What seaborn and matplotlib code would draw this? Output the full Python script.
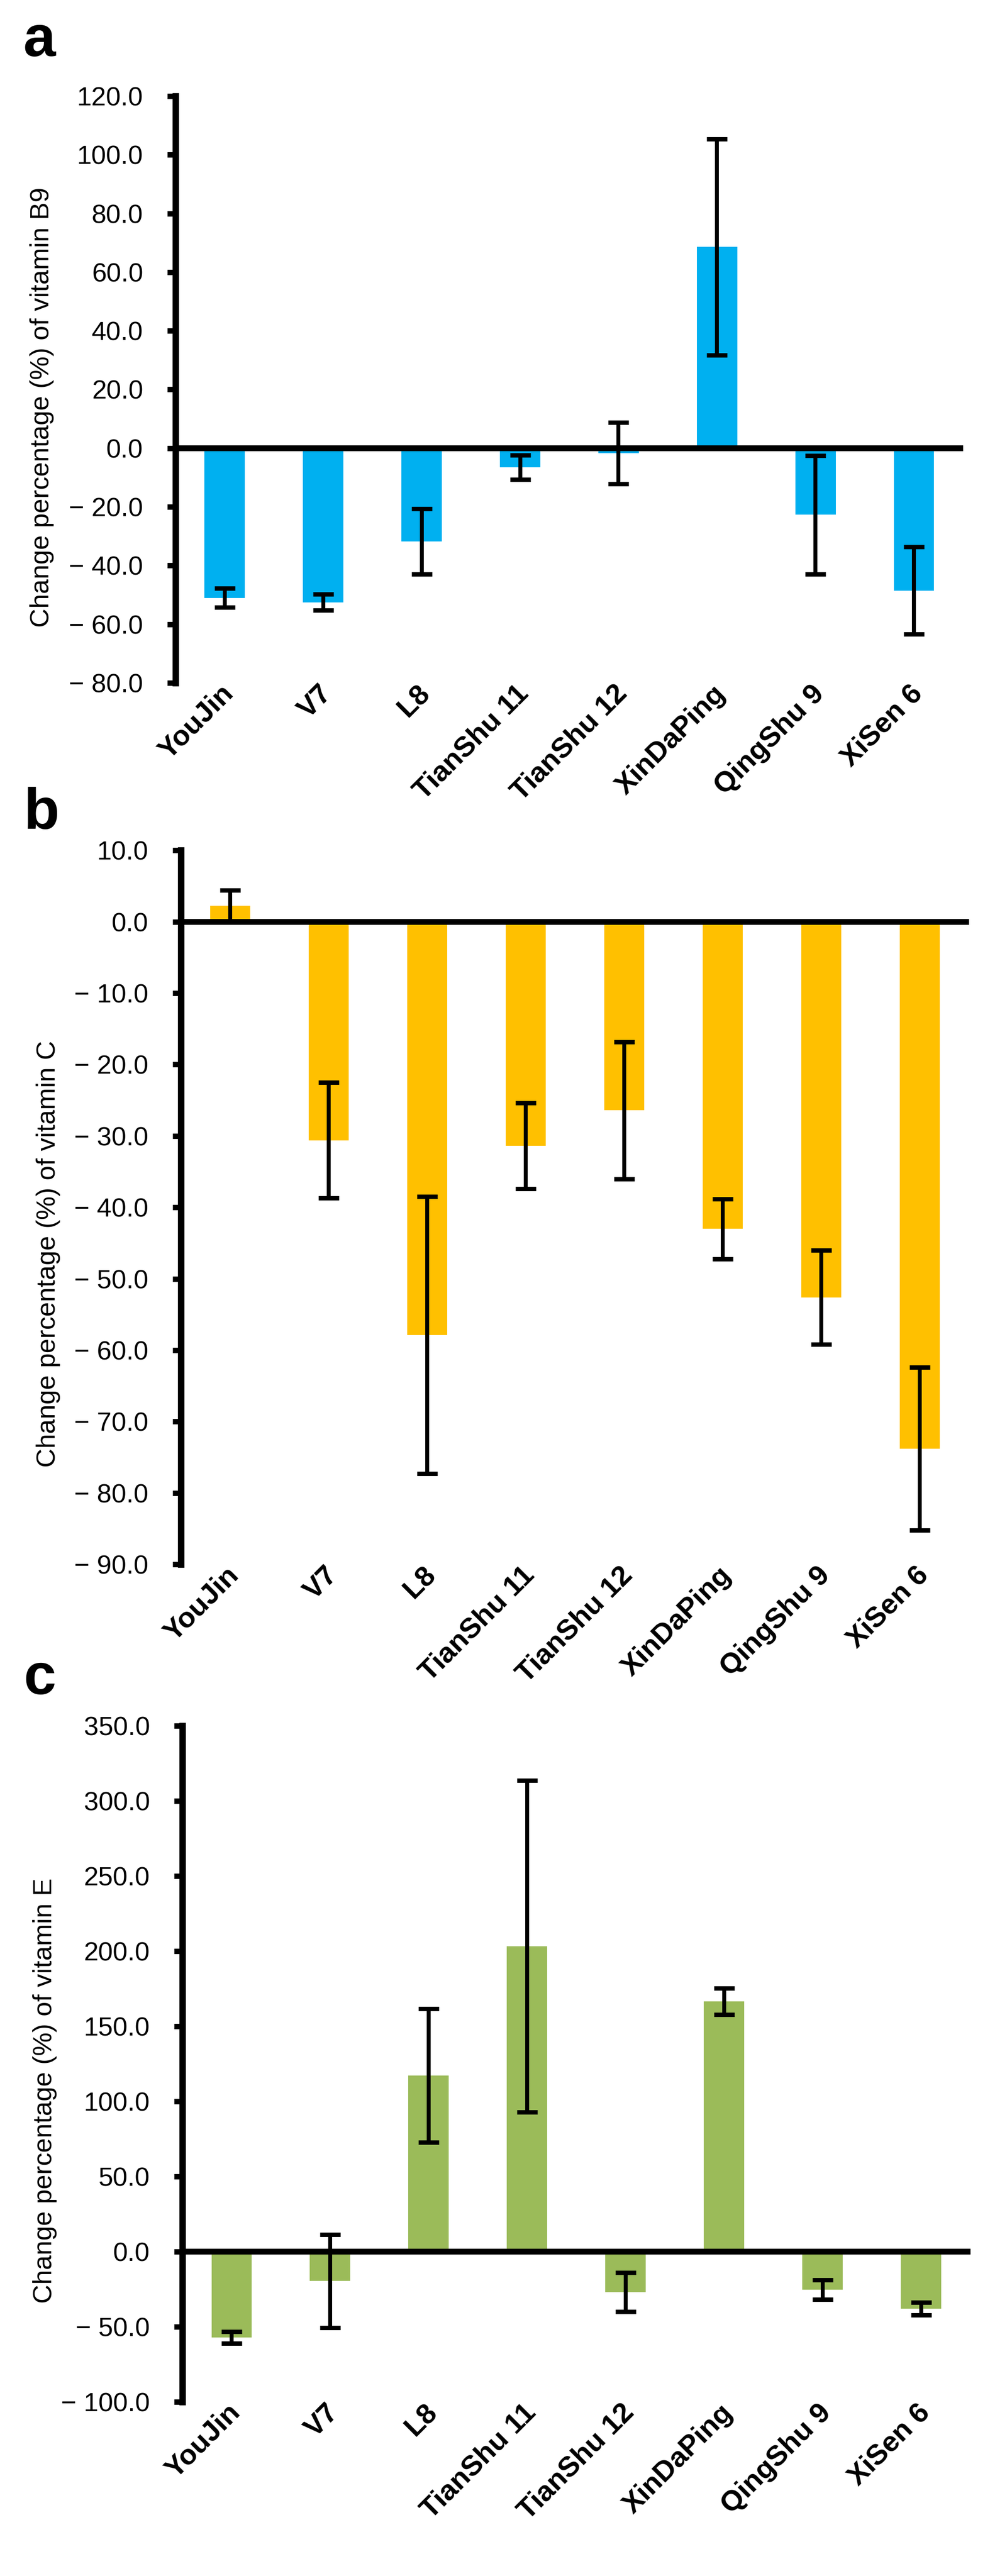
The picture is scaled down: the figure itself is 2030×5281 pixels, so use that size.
import numpy as np
import pandas as pd
import matplotlib
matplotlib.use("Agg")
import matplotlib.pyplot as plt
from matplotlib.ticker import FuncFormatter
from matplotlib.transforms import ScaledTranslation
import seaborn as sns

plt.rcParams['font.family'] = ['Liberation Sans', 'DejaVu Sans']

categories = ["YouJin", "V7", "L8", "TianShu 11", "TianShu 12", "XinDaPing", "QingShu 9", "XiSen 6"]

b9_mean = [-51.0, -52.5, -31.8, -6.5, -1.7, 68.6, -22.7, -48.5]
b9_err = [3.3, 2.7, 11.1, 4.1, 10.5, 36.8, 20.2, 14.8]

c_mean = [2.2, -30.6, -57.9, -31.4, -26.4, -43.0, -52.6, -73.8]
c_err = [2.2, 8.1, 19.4, 6.0, 9.6, 4.2, 6.6, 11.4]

e_mean = [-57.1, -19.5, 117.2, 203.1, -26.9, 166.6, -25.4, -38.0]
e_err = [4.0, 31.0, 44.6, 110.4, 12.9, 8.8, 6.4, 4.3]

panels = [
    dict(letter="a", mean=b9_mean, err=b9_err, color="#00B0F0",
         ylabel="Change percentage (%) of vitamin B9", ylim=(-80, 120), step=20,
         rect=(0.1773, 0.7349, 0.7956, 0.2278), letter_y=0.9782, label_y=0.47, label_x=-0.154),
    dict(letter="b", mean=c_mean, err=c_err, color="#FFC000",
         ylabel="Change percentage (%) of vitamin C", ylim=(-90, 10), step=10,
         rect=(0.1828, 0.3927, 0.7960, 0.2772), letter_y=0.6783, label_y=0.435, label_x=-0.153),
    dict(letter="c", mean=e_mean, err=e_err, color="#9BBB59",
         ylabel="Change percentage (%) of vitamin E", ylim=(-100, 350), step=50,
         rect=(0.1842, 0.0676, 0.7960, 0.2625), letter_y=0.3424, label_y=0.46, label_x=-0.159),
]


def fmt(v, pos):
    s = f"{abs(v):.1f}"
    return ("\u2212 " + s) if v < -1e-9 else s


fig = plt.figure(figsize=(20.3, 52.81), dpi=100)
shift = ScaledTranslation(9 / 100, 0, fig.dpi_scale_trans)

for p in panels:
    ax = fig.add_axes(p["rect"])
    df = pd.DataFrame({"cat": categories, "val": p["mean"]})
    sns.barplot(data=df, x="cat", y="val", color=p["color"], saturation=1,
                width=0.41, errorbar=None, linewidth=0, ax=ax, zorder=2)
    ax.errorbar(x=np.arange(len(categories)), y=p["mean"], yerr=p["err"],
                fmt="none", ecolor="black", elinewidth=5.8, capsize=15,
                capthick=6.5, zorder=4)
    ax.axhline(0, color="black", lw=8.6, zorder=3)
    ax.set_xlim(-0.5, len(categories) - 0.5)
    lo, hi = p["ylim"]
    ax.set_ylim(lo, hi)
    ax.set_yticks(np.arange(lo, hi + p["step"] / 2, p["step"]))
    ax.yaxis.set_major_formatter(FuncFormatter(fmt))
    for side in ["top", "right", "bottom"]:
        ax.spines[side].set_visible(False)
    ax.spines["left"].set_linewidth(9.6)
    ax.spines["left"].set_capstyle("projecting")
    ax.tick_params(axis="y", direction="out", length=12, width=8, pad=36,
                   labelsize=39, colors="black")
    ax.tick_params(axis="x", length=0, pad=10)
    ax.set_xticks(np.arange(len(categories)))
    ax.set_xticklabels(categories, rotation=45, ha="right", va="center",
                       rotation_mode="anchor", fontsize=42, fontweight="bold")
    for lbl in ax.get_xticklabels():
        lbl.set_transform(lbl.get_transform() + shift)
    ax.set_xlabel("")
    ax.set_ylabel(p["ylabel"], fontsize=39)
    ax.yaxis.set_label_coords(p["label_x"], p["label_y"])
    ax.yaxis.label.set_va("bottom")
    ax.set_facecolor("white")
    fig.text(0.0236, p["letter_y"], p["letter"], fontsize=86, fontweight="bold",
             ha="left", va="baseline")

fig.savefig("out.png", dpi=100, facecolor="white")
